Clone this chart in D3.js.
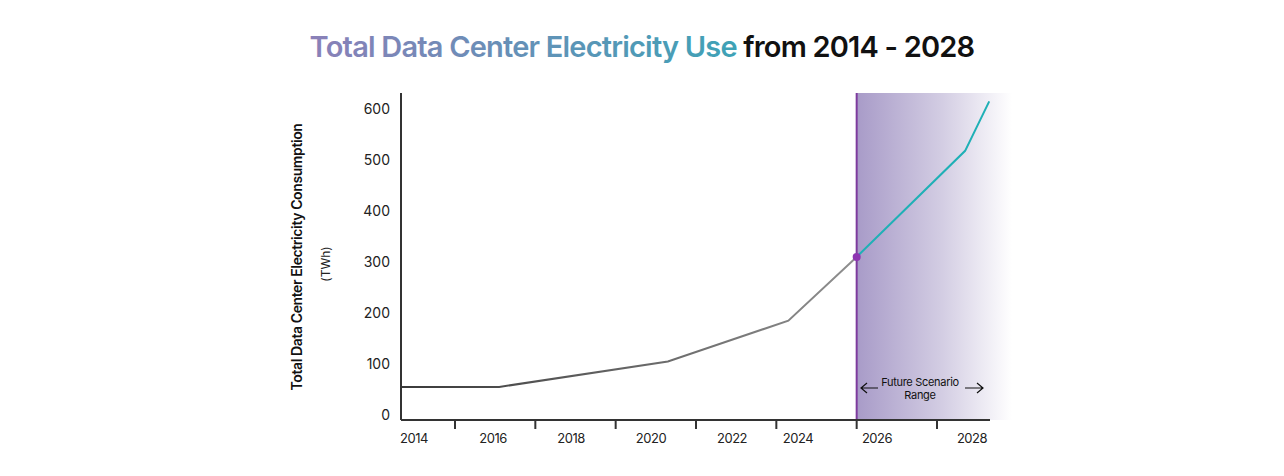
<!DOCTYPE html><html><head><meta charset="utf-8">
<script src="https://cdn.jsdelivr.net/npm/d3@7"></script>
<style>body{margin:0;background:#fff;font-family:Inter,"Noto Sans",sans-serif}</style></head><body>
<svg id="c" width="1284" height="476"></svg>
<script>
const histYears=[2013.65,2016.1,2020.3,2023.3,2025];
const histValues=[55,55,105,185,310];
const futYears=[2025,2027.7,2028.3];
const futValues=[310,518,615];
const xLabels=[2014,2016,2018,2020,2022,2024,2026,2028];
const xTicks=[2015,2017,2019,2021,2023,2025,2027];
const yTicks=[0,100,200,300,400,500,600];
const svg=d3.select("#c");
const x=d3.scaleLinear().domain([2015,2027]).range([455,937]);
const y=d3.scaleLinear().domain([0,600]).range([415,109]);
const defs=svg.append("defs");
const g1=defs.append("linearGradient").attr("id","fut");
g1.append("stop").attr("offset","0").attr("stop-color","#a89bc8");
g1.append("stop").attr("offset","0.55").attr("stop-color","#d3cde3");
g1.append("stop").attr("offset","1").attr("stop-color","#fff");
const g2=defs.append("linearGradient").attr("id","hist").attr("gradientUnits","userSpaceOnUse").attr("x1",401).attr("x2",854);
g2.append("stop").attr("offset","0").attr("stop-color","#3a3a3a");
g2.append("stop").attr("offset","1").attr("stop-color","#8f8f8f");
const tg=defs.append("linearGradient").attr("id","tt");
tg.append("stop").attr("offset","0").attr("stop-color","#8a80b8");
tg.append("stop").attr("offset","1").attr("stop-color","#14b5b5");
const pTop=93,pBot=420,pLeft=401,pRight=990;
svg.append("rect").attr("x",x(2025)).attr("y",pTop).attr("width",1012-x(2025)).attr("height",pBot-pTop).attr("fill","url(#fut)");
const line=d3.line().x(d=>x(d[0])).y(d=>y(d[1]));
svg.append("path").attr("d",line(histYears.map((d,i)=>[d,histValues[i]]))).attr("fill","none").attr("stroke","url(#hist)").attr("stroke-width",2);
svg.append("path").attr("d",line(futYears.map((d,i)=>[d,futValues[i]]))).attr("fill","none").attr("stroke","#1fb0b6").attr("stroke-width",2);
svg.append("line").attr("x1",x(2025)).attr("x2",x(2025)).attr("y1",pTop).attr("y2",pBot).attr("stroke","#7d3b9e").attr("stroke-width",2);
svg.append("circle").attr("cx",x(2025)).attr("cy",y(310)).attr("r",4).attr("fill","#8e35b2");
svg.append("line").attr("x1",pLeft).attr("x2",pLeft).attr("y1",pTop).attr("y2",pBot).attr("stroke","#333").attr("stroke-width",2);
svg.append("line").attr("x1",pLeft).attr("x2",pRight).attr("y1",pBot).attr("y2",pBot).attr("stroke","#333").attr("stroke-width",2);
xTicks.forEach(t=>svg.append("line").attr("x1",x(t)).attr("x2",x(t)).attr("y1",pBot).attr("y2",pBot+9).attr("stroke","#333").attr("stroke-width",2));
const lx=[414,493,571,651,732,798,877,972];
xLabels.forEach((t,i)=>svg.append("text").attr("x",lx[i]).attr("y",443).attr("text-anchor","middle").attr("font-size",13).attr("fill","#222").attr("letter-spacing","-0.5").text(t));
yTicks.forEach(t=>svg.append("text").attr("x",390).attr("y",y(t)+5).attr("text-anchor","end").attr("font-size",14).attr("fill","#222").text(t));
svg.append("text").attr("transform","translate(302,257) rotate(-90)").attr("text-anchor","middle").attr("font-size",14).attr("font-weight",600).attr("fill","#111").attr("letter-spacing","-0.4").text("Total Data Center Electricity Consumption");
svg.append("text").attr("transform","translate(330,264) rotate(-90)").attr("text-anchor","middle").attr("font-size",12).attr("fill","#222").text("(TWh)");
svg.append("text").attr("x",920).attr("y",386).attr("text-anchor","middle").attr("font-size",11).attr("fill","#111").attr("letter-spacing","-0.3").text("Future Scenario");
svg.append("text").attr("x",920).attr("y",399).attr("text-anchor","middle").attr("font-size",11).attr("fill","#111").attr("letter-spacing","-0.3").text("Range");
svg.append("path").attr("d","M861,388 H878 M867,383 L861,388 L867,393 M965,388 H983 M977,383 L983,388 L977,393").attr("fill","none").attr("stroke","#111").attr("stroke-width",1.2);
const tt=svg.append("text").attr("x",642).attr("y",57).attr("text-anchor","middle").attr("font-size",29).attr("font-weight",600).attr("letter-spacing","-0.8");
tt.append("tspan").attr("fill","url(#tt)").text("Total Data Center Electricity Use ");
tt.append("tspan").attr("fill","#111").text("from 2014 - 2028");
</script></body></html>
